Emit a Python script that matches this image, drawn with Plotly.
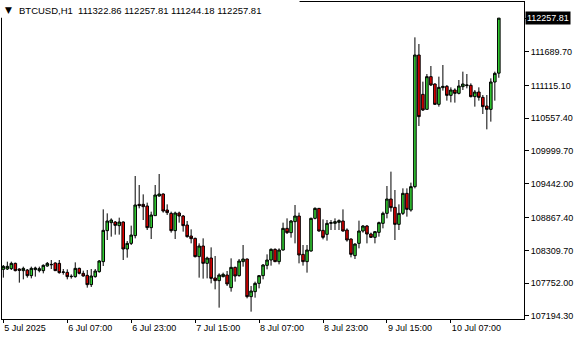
import pandas as pd
import plotly.graph_objects as go

# ---- data (hourly BTCUSD candles) ----
opens = [107987, 107993, 107999, 108089, 107993, 107965, 107976, 107880, 107982, 107965,
         107965, 108044, 108072, 108095, 108089, 107936, 107936, 107863, 107863, 108004,
         107919, 107885, 107727, 107863, 107948, 108118, 108645, 108781, 108792, 108730,
         108792, 108333, 108429, 108560, 109092, 109092, 109064, 108696, 108900, 109234,
         109268, 108996, 108939, 108645, 108945, 108894, 108741, 108554, 108514, 108203,
         108384, 108089, 108180, 107840, 107795, 107863, 107891, 107676, 108021, 107880,
         108118, 108163, 107523, 107608, 107749, 107880, 108055, 108146, 108327, 108118,
         108316, 108684, 108611, 108798, 108894, 108242, 108118, 108299, 108854, 109024,
         108650, 108582, 108769, 108769, 108786, 108809, 108656, 108503, 108220, 108429,
         108639, 108724, 108588, 108531, 108616, 108769, 108939, 109183, 109041, 108752,
         108939, 109279, 108996, 109393, 111631, 110962, 110707, 111263, 111138, 110792,
         111076, 111098, 110945, 111036, 110979, 111093, 111110, 111115, 110923, 111002,
         110911, 110764, 110707, 111172, 111322.86]
highs = [108061, 108118, 108118, 108101, 108004, 108033, 107993, 108033, 108033, 108033,
         108072, 108112, 108146, 108106, 108146, 107993, 107987, 107902, 108106, 108016,
         107965, 107976, 107993, 107993, 108146, 109007, 108939, 108854, 108809, 108866,
         108803, 108469, 108730, 109574, 109421, 109262, 109121, 108968, 109421, 109608,
         109279, 109092, 108968, 108968, 108968, 108911, 108809, 108667, 108526, 108429,
         108514, 108203, 108361, 108214, 107919, 107931, 107959, 108174, 108033, 108163,
         108401, 108170, 107704, 107778, 107891, 108078, 108242, 108344, 108344, 108344,
         108781, 108854, 108826, 109081, 108951, 108401, 108401, 108866, 109041, 109030,
         108837, 108826, 108826, 108854, 108837, 109007, 108684, 108514, 108429, 108815,
         108741, 108741, 108611, 108639, 108798, 108968, 109404, 109648, 109336, 109092,
         109364, 109364, 109461, 111931, 111818, 111178, 111308, 111444, 111149, 111263,
         111461, 111121, 111081, 111064, 111206, 111348, 111308, 111149, 111036, 111081,
         110951, 110951, 111234, 111348, 112257.81]
lows = [107846, 107976, 107976, 107953, 107761, 107817, 107846, 107834, 107863, 107936,
        107919, 108033, 107993, 107959, 107914, 107897, 107817, 107829, 107846, 107902,
        107863, 107676, 107687, 107846, 107931, 108044, 108486, 108543, 108577, 108577,
        108146, 108186, 108401, 108514, 109024, 108826, 108656, 108503, 108900, 109223,
        108951, 108911, 108611, 108503, 108781, 108628, 108526, 108429, 108190, 107846,
        107829, 107834, 107749, 107647, 107336, 107851, 107704, 107608, 107778, 107863,
        108033, 107494, 107268, 107506, 107664, 107817, 107987, 108050, 108110, 108072,
        108305, 108588, 108526, 108429, 108089, 108050, 107931, 108288, 108837, 108628,
        108497, 108475, 108656, 108656, 108656, 108628, 108458, 108191, 108163, 108344,
        108611, 108429, 108520, 108429, 108543, 108684, 108854, 108968, 108486, 108656,
        108911, 108883, 108968, 109364, 110424, 110679, 110707, 111104, 110781, 110753,
        111025, 110855, 110826, 110821, 110962, 111036, 111064, 110911, 110753, 110855,
        110628, 110367, 110498, 110855, 111244.18]
closes = [108038, 108038, 108089, 107965, 107970, 108004, 107880, 108004, 108010, 107999,
          108055, 108089, 108067, 107965, 107931, 107942, 107863, 107868, 108004, 107919,
          107874, 107727, 107874, 107959, 108129, 108650, 108809, 108826, 108735, 108792,
          108333, 108429, 108570, 109081, 109070, 109053, 108696, 108911, 109251, 109268,
          108979, 108951, 108645, 108945, 108894, 108730, 108543, 108509, 108203, 108384,
          108089, 108180, 107834, 107795, 107891, 107902, 107738, 108021, 107874, 108129,
          108163, 107523, 107619, 107749, 107880, 108061, 108146, 108327, 108118, 108316,
          108684, 108611, 108809, 108894, 108231, 108118, 108316, 108854, 109024, 108639,
          108531, 108769, 108781, 108798, 108815, 108639, 108486, 108242, 108418, 108639,
          108724, 108588, 108531, 108628, 108781, 108939, 109183, 109036, 108752, 108939,
          109279, 109007, 109393, 111631, 110583, 110696, 111263, 111121, 110792, 111081,
          111098, 110945, 111036, 110979, 111104, 111138, 111121, 110923, 111002, 110911,
          110753, 110707, 111172, 111319, 112257.81]
first_bar = "2025-07-05 15:00"
x_tick_labels = ["5 Jul 2025", "6 Jul 07:00", "6 Jul 23:00", "7 Jul 15:00",
                 "8 Jul 07:00", "8 Jul 23:00", "9 Jul 15:00", "10 Jul 07:00"]
y_tick_values = [107194.30, 107752.00, 108309.70, 108867.40, 109442.00,
                 109999.70, 110557.40, 111115.10, 111689.70]
symbol = "BTCUSD,H1"

times = pd.date_range(first_bar, periods=len(opens), freq="h")
x_tick_positions = list(times[::16][:len(x_tick_labels)])

FONT = "Liberation Sans"
fig = go.Figure(go.Candlestick(
    x=times, open=opens, high=highs, low=lows, close=closes,
    increasing=dict(line=dict(color="black", width=1), fillcolor="#32CD32"),
    decreasing=dict(line=dict(color="black", width=1), fillcolor="#E00000"),
    whiskerwidth=0, hoverinfo="skip", showlegend=False,
))

t0 = times[0]
fig.update_layout(
    width=580, height=340,
    margin=dict(l=2, r=56, t=2, b=21),
    paper_bgcolor="white", plot_bgcolor="white",
    font=dict(family=FONT, size=9, color="black"),
    showlegend=False,
    boxgap=0.08, boxgroupgap=0.3,
    xaxis=dict(
        type="date",
        range=[t0 - pd.Timedelta(minutes=20), t0 + pd.Timedelta(hours=130.3)],
        rangeslider=dict(visible=False),
        showgrid=False, zeroline=False,
        showline=True, linecolor="black", linewidth=1, mirror=True,
        ticks="outside", ticklen=3, tickcolor="black", tickwidth=1,
        tickvals=x_tick_positions, ticktext=x_tick_labels,
        ticklabelposition="outside right",
        tickfont=dict(family=FONT, size=9, color="black"),
    ),
    yaxis=dict(
        side="right",
        range=[107143, 112532],
        showgrid=False, zeroline=False,
        showline=True, linecolor="black", linewidth=1, mirror=True,
        ticks="outside", ticklen=4, tickcolor="black", tickwidth=1,
        tickvals=y_tick_values + [closes[-1]],
        ticktext=[f"{v:.2f}" for v in y_tick_values] + [""],
        tickfont=dict(family=FONT, size=9, color="black"),
    ),
    shapes=[dict(type="rect", xref="paper", yref="paper", layer="above",
                 x0=-0.01, x1=0.57, y0=0.95, y1=1.02,
                 fillcolor="white", line=dict(width=0))],
    annotations=[
        dict(xref="paper", yref="paper", x=0, y=1, xanchor="center", yanchor="middle",
             xshift=6, yshift=-8, text="▼", showarrow=False,
             font=dict(family="DejaVu Sans", size=9, color="black")),
        dict(xref="paper", yref="paper", x=0, y=1, xanchor="left", yanchor="middle",
             xshift=15, yshift=-8, showarrow=False,
             text=f"{symbol}  {opens[-1]:.2f} {highs[-1]:.2f} {lows[-1]:.2f} {closes[-1]:.2f}",
             font=dict(family=FONT, size=9.5, color="black")),
        dict(xref="paper", yref="y", x=1, y=closes[-1], xanchor="left", yanchor="middle",
             xshift=1, showarrow=False, text=f"{closes[-1]:.2f}",
             bgcolor="black", borderpad=1,
             font=dict(family=FONT, size=9, color="white")),
    ],
)

fig.write_html("out.html")
